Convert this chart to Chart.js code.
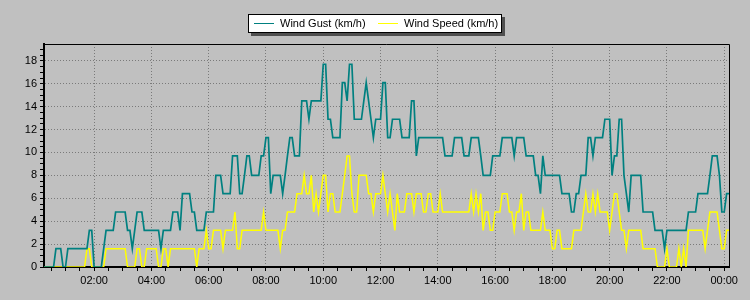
<!DOCTYPE html>
<html>
<head>
<meta charset="utf-8">
<script src="https://cdn.jsdelivr.net/npm/chart.js@4.4.1/dist/chart.umd.min.js"></script>
<style>
  html, body { margin: 0; padding: 0; background: #c0c0c0; }
  #wrap { position: relative; width: 750px; height: 300px; }
  #legend { position: absolute; left: 248px; top: 14px; width: 252px; height: 17px; background: #fff;
            border: 1px solid #000; box-shadow: 3px 3px 0 #505050; font: 11px "Liberation Sans", Arial, sans-serif; color: #000; }
  .sw { position: absolute; top: 8px; width: 20px; height: 0; border-top: 1px solid; }
  .lb { position: absolute; top: 2px; line-height: 13px; white-space: nowrap; }
</style>
</head>
<body>
<div id="wrap">
  <canvas id="c" width="750" height="300"></canvas>
  <div id="legend">
    <span class="sw" style="left:5px; border-color:#008080"></span>
    <span class="lb" style="left:31px">Wind Gust (km/h)</span>
    <span class="sw" style="left:129px; border-color:#ffff00"></span>
    <span class="lb" style="left:155px">Wind Speed (km/h)</span>
  </div>
</div>
<script>
// 5-minute samples, 00:15 -> 00:10 next day (one row = one hour)
const gust = [
  0,0,0,0,0,1.6,1.6,1.6,0,0,1.6,1.6,
  1.6,1.6,1.6,1.6,1.6,1.6,1.6,3.2,3.2,0,0,0,
  0,1.6,3.2,3.2,3.2,3.2,4.8,4.8,4.8,4.8,4.8,3.2,
  3.2,1.6,3.2,4.8,4.8,4.8,3.2,3.2,3.2,3.2,3.2,3.2,
  3.2,1.6,3.2,3.2,3.2,3.2,4.8,4.8,4.8,3.2,6.4,6.4,
  6.4,6.4,4.8,4.8,3.2,3.2,3.2,3.2,4.8,4.8,4.8,4.8,
  8.0,8.0,8.0,6.4,6.4,6.4,6.4,9.7,9.7,9.7,6.4,6.4,
  8.0,9.7,9.7,8.0,8.0,8.0,8.0,9.7,9.7,11.3,11.3,6.4,
  8.0,8.0,8.0,8.0,6.4,8.0,9.7,11.3,11.3,9.7,9.7,9.7,
  14.5,14.5,14.5,12.9,14.5,14.5,14.5,14.5,14.5,17.7,17.7,12.9,
  12.9,11.3,11.3,11.3,11.3,16.1,16.1,14.5,17.7,17.7,12.9,12.9,
  12.9,12.9,14.5,16.1,14.5,12.9,11.3,12.9,12.9,12.9,16.1,16.1,
  11.3,11.3,12.9,12.9,12.9,12.9,11.3,11.3,11.3,11.3,14.5,14.5,
  9.7,11.3,11.3,11.3,11.3,11.3,11.3,11.3,11.3,11.3,11.3,11.3,
  9.7,9.7,9.7,9.7,11.3,11.3,11.3,11.3,9.7,9.7,9.7,11.3,
  11.3,11.3,11.3,9.7,8.0,8.0,8.0,8.0,9.7,9.7,9.7,9.7,
  11.3,11.3,11.3,11.3,11.3,9.7,11.3,11.3,11.3,11.3,9.7,9.7,
  9.7,9.7,8.0,8.0,6.4,9.7,8.0,8.0,8.0,8.0,8.0,8.0,
  8.0,6.4,6.4,6.4,6.4,4.8,4.8,6.4,6.4,8.0,8.0,8.0,
  11.3,11.3,9.7,11.3,11.3,11.3,11.3,12.9,12.9,12.9,8.0,9.7,
  9.7,12.9,12.9,8.0,6.4,4.8,8.0,8.0,8.0,8.0,8.0,4.8,
  4.8,4.8,4.8,4.8,3.2,3.2,3.2,3.2,1.6,3.2,3.2,3.2,
  3.2,3.2,3.2,3.2,3.2,3.2,4.8,4.8,4.8,4.8,6.4,6.4,
  6.4,6.4,6.4,8.0,9.7,9.7,9.7,8.0,4.8,4.8,6.4,6.4
];
const speed = [
  0,0,0,0,0,0,0,0,0,0,0,0,
  0,0,0,0,0,0,1.6,1.6,0,0,0,0,
  0,0,1.6,1.6,1.6,1.6,1.6,1.6,1.6,1.6,1.6,0,
  0,0,0,1.6,1.6,0,0,1.6,1.6,1.6,1.6,1.6,
  0,0,1.6,1.6,0,1.6,1.6,1.6,1.6,1.6,1.6,1.6,
  1.6,1.6,1.6,1.6,0,1.6,1.6,1.6,3.2,1.6,1.6,3.2,
  3.2,3.2,3.2,1.6,3.2,3.2,3.2,3.2,4.8,1.6,1.6,3.2,
  3.2,3.2,3.2,3.2,3.2,3.2,3.2,3.2,4.8,3.2,3.2,3.2,
  3.2,3.2,3.2,1.6,3.2,3.2,4.8,4.8,4.8,4.8,6.4,6.4,
  6.4,8.0,6.4,6.4,8.0,4.8,6.4,4.8,6.4,8.0,8.0,4.8,
  6.4,6.4,4.8,4.8,4.8,6.4,8.0,9.7,9.7,6.4,4.8,4.8,
  8.0,8.0,8.0,8.0,6.4,6.4,4.8,6.4,6.4,6.4,8.0,6.4,
  4.8,6.4,4.8,3.2,6.4,4.8,4.8,4.8,6.4,6.4,6.4,4.8,
  6.4,6.4,6.4,4.8,4.8,6.4,6.4,4.8,4.8,4.8,6.4,4.8,
  4.8,4.8,4.8,4.8,4.8,4.8,4.8,4.8,4.8,4.8,4.8,6.4,
  4.8,6.4,4.8,6.4,3.2,4.8,4.8,3.2,3.2,4.8,4.8,4.8,
  6.4,6.4,6.4,4.8,4.8,3.2,4.8,4.8,6.4,3.2,4.8,4.8,
  3.2,3.2,3.2,3.2,3.2,4.8,3.2,3.2,3.2,1.6,1.6,3.2,
  3.2,1.6,1.6,1.6,1.6,1.6,3.2,3.2,3.2,3.2,4.8,6.4,
  4.8,4.8,6.4,4.8,6.4,4.8,4.8,4.8,4.8,3.2,4.8,6.4,
  6.4,4.8,3.2,3.2,1.6,3.2,3.2,3.2,3.2,3.2,3.2,1.6,
  1.6,1.6,1.6,1.6,1.6,0,0,0,0,1.6,0,0,
  0,0,1.6,0,1.6,0,3.2,3.2,3.2,3.2,3.2,3.2,
  3.2,1.6,3.2,4.8,4.8,4.8,4.8,3.2,1.6,1.6,3.2,3.2
];
const times = gust.map((v, i) => 15 + i * 5); // minutes after midnight
const xMin = 15, xMax = 1450, yMax = 19.47;

function hhmm(m) {
    let h = Math.floor(m / 60) % 24, mm = m % 60;
    return String(h).padStart(2, '0') + ':' + String(mm).padStart(2, '0');
}
const isMul = (v, s) => Math.abs(v / s - Math.round(v / s)) < 1e-6;

// thin frame on top / right of the plot
const frame = {
    id: 'frame',
    afterDraw(chart) {
        const { ctx, chartArea: a } = chart;
        ctx.save();
        ctx.strokeStyle = '#000';
        ctx.lineWidth = 1;
        ctx.beginPath();
        ctx.moveTo(a.left, a.top + 0.5);
        ctx.lineTo(a.right + 0.5, a.top + 0.5);
        ctx.lineTo(a.right + 0.5, a.bottom);
        ctx.stroke();
        ctx.restore();
    }
};

const tickFont = { family: '"Liberation Sans", Arial, sans-serif', size: 11 };

new Chart(document.getElementById('c'), {
    type: 'line',
    data: {
        datasets: [
            { label: 'Wind Gust (km/h)', data: times.map((t, i) => ({ x: t, y: gust[i] })),
              borderColor: '#008080', borderWidth: 1.7, pointRadius: 0, tension: 0 },
            { label: 'Wind Speed (km/h)', data: times.map((t, i) => ({ x: t, y: speed[i] })),
              borderColor: '#ffff00', borderWidth: 1.5, pointRadius: 0, tension: 0 }
        ]
    },
    options: {
        responsive: false,
        animation: false,
        layout: { padding: { top: 44, right: 21, left: 0, bottom: 0 } },
        plugins: { legend: { display: false }, tooltip: { enabled: false } },
        scales: {
            x: {
                type: 'linear', min: xMin, max: xMax,
                afterFit: s => { s.height = 33; },
                ticks: {
                    stepSize: 30, includeBounds: false, autoSkip: false, maxRotation: 0,
                    padding: 3, color: '#000', font: tickFont,
                    callback: v => isMul(v, 120) ? hhmm(v) : ''
                },
                grid: {
                    color: c => (c.tick && isMul(c.tick.value, 120)) ? '#7a7a7a' : 'rgba(0,0,0,0)',
                    tickColor: '#000', tickLength: 4, lineWidth: 1
                },
                border: { color: '#000', width: 2, dash: [1, 2] }
            },
            y: {
                min: 0, max: yMax,
                afterFit: s => { s.width = 44; },
                ticks: {
                    stepSize: 0.5, includeBounds: false, autoSkip: false,
                    padding: 3, color: '#000', font: tickFont,
                    callback: v => isMul(v, 2) ? v : ''
                },
                grid: {
                    color: c => (c.tick && isMul(c.tick.value, 2)) ? '#7a7a7a' : 'rgba(0,0,0,0)',
                    tickColor: '#000', tickLength: 4, lineWidth: 1
                },
                border: { color: '#000', width: 2, dash: [1, 2] }
            }
        }
    },
    plugins: [frame]
});
</script>
</body>
</html>
